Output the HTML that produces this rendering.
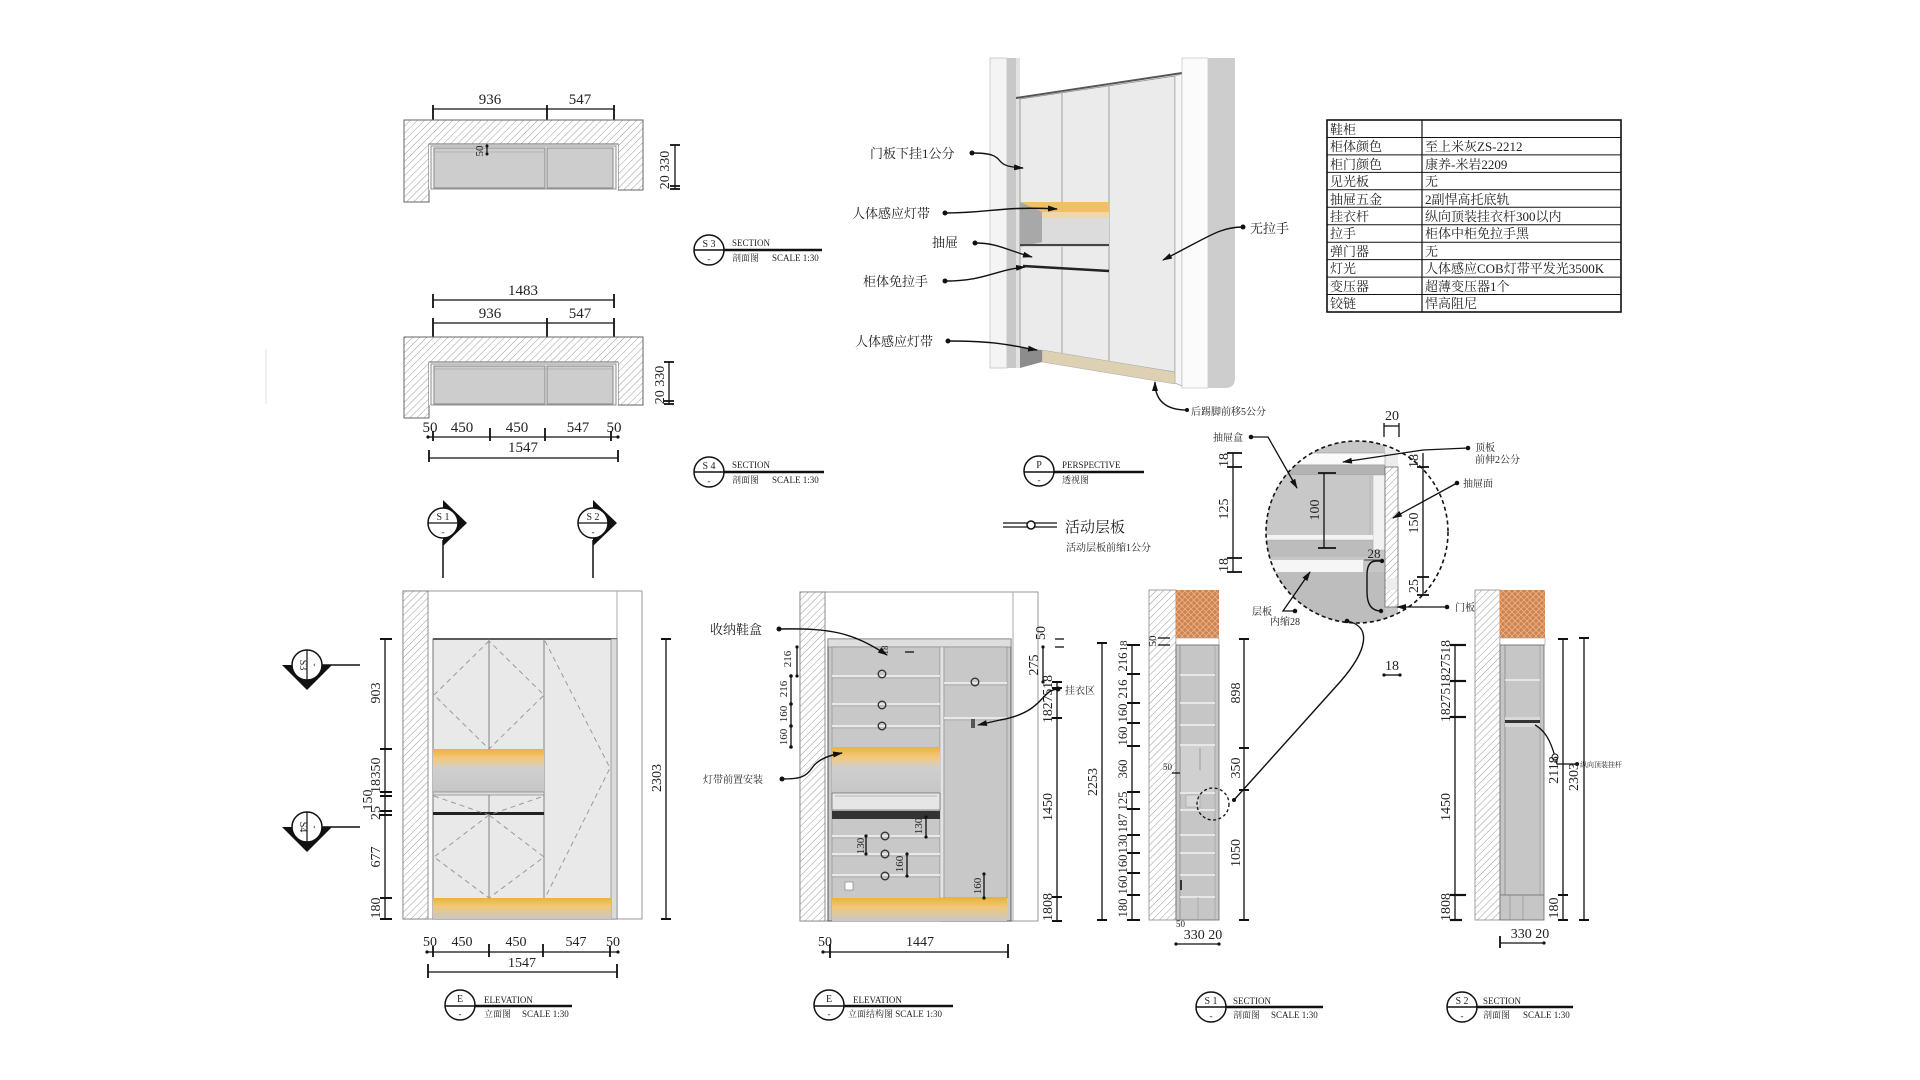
<!DOCTYPE html>
<html><head><meta charset="utf-8"><style>
html,body{margin:0;padding:0;background:#fff;}
svg{display:block;}
text{font-family:"Liberation Serif","Noto Serif CJK SC",serif;fill:#222;}
.t{font-family:"Liberation Serif","Noto Serif CJK SC",serif;}
</style></head><body>
<svg width="1920" height="1080" viewBox="0 0 1920 1080" xmlns="http://www.w3.org/2000/svg">
<defs>
<pattern id="h" width="5" height="5" patternUnits="userSpaceOnUse" patternTransform="rotate(45)">
<rect width="5" height="5" fill="#fff"/><line x1="0" y1="0" x2="0" y2="5" stroke="#9a9a9a" stroke-width="1"/></pattern>
<pattern id="b" width="6" height="6" patternUnits="userSpaceOnUse">
<rect width="6" height="6" fill="#d0824f"/><path d="M0,0 L6,6 M6,0 L0,6" stroke="#eab48a" stroke-width="0.8"/></pattern>
<linearGradient id="og" x1="0" y1="0" x2="0" y2="1">
<stop offset="0" stop-color="#efb040"/><stop offset="0.22" stop-color="#f3c97a"/><stop offset="0.45" stop-color="#cfcfcf"/><stop offset="1" stop-color="#c6c6c6"/></linearGradient>
<linearGradient id="og2" x1="0" y1="0" x2="0" y2="1">
<stop offset="0" stop-color="#efb040"/><stop offset="0.4" stop-color="#f1c878"/><stop offset="1" stop-color="#c8c8c8"/></linearGradient>
<marker id="ar" markerWidth="10" markerHeight="6" refX="9" refY="3" orient="auto" markerUnits="userSpaceOnUse"><path d="M0,0 L10,3 L0,6 z" fill="#111"/></marker>
<clipPath id="dc"><circle cx="1357" cy="532" r="91"/></clipPath>
</defs>
<rect width="1920" height="1080" fill="#fff"/>
<line x1="266" y1="349" x2="266" y2="404" stroke="#e2e2e2" stroke-width="1"/>

<!-- ============ PLAN 1 ============ -->
<g stroke="#111" stroke-width="1.3">
<line x1="433" y1="109" x2="614" y2="109"/>
<line x1="433" y1="105" x2="433" y2="120" stroke-width="1.8"/><line x1="547" y1="105" x2="547" y2="120" stroke-width="1.8"/><line x1="614" y1="105" x2="614" y2="120" stroke-width="1.8"/>
</g>
<text x="490" y="104" font-size="15" text-anchor="middle">936</text>
<text x="580" y="104" font-size="15" text-anchor="middle">547</text>
<path d="M404,120 H643 V190 H618 V144 H429 V202 H404 Z" fill="url(#h)" stroke="#666" stroke-width="1"/>
<rect x="429" y="144" width="189" height="46" fill="#fff" stroke="none"/>
<line x1="429" y1="144" x2="618" y2="144" stroke="#666"/>
<rect x="431" y="146" width="185" height="43" fill="#f2f2f2" stroke="#777" stroke-width="0.8"/>
<rect x="434" y="148" width="111" height="40" fill="#cdcdcd" stroke="#777" stroke-width="0.8"/>
<rect x="547" y="148" width="66" height="40" fill="#cdcdcd" stroke="#777" stroke-width="0.8"/>
<line x1="434" y1="152" x2="545" y2="152" stroke="#999" stroke-width="0.6"/>
<line x1="487" y1="145" x2="487" y2="155" stroke="#111" stroke-width="1.2"/>
<circle cx="487" cy="146" r="1.5" fill="#111"/><circle cx="487" cy="154" r="1.5" fill="#111"/>
<text transform="translate(483,151) rotate(-90)" font-size="11" text-anchor="middle">50</text>
<g stroke="#111" stroke-width="1.3"><line x1="675" y1="145" x2="675" y2="189"/>
<line x1="670" y1="145" x2="680" y2="145" stroke-width="1.8"/><line x1="670" y1="186" x2="680" y2="186" stroke-width="1.8"/><line x1="670" y1="189" x2="680" y2="189" stroke-width="1.8"/></g>
<text transform="translate(669,170) rotate(-90)" font-size="14" text-anchor="middle">20 330</text>

<!-- S3 label -->
<line x1="694" y1="250" x2="822" y2="250" stroke="#111" stroke-width="2.5"/>
<circle cx="709" cy="250" r="15" fill="#fff" stroke="#111" stroke-width="1.5"/>
<line x1="694" y1="250" x2="724" y2="250" stroke="#111" stroke-width="1.5"/>
<text x="709" y="247" font-size="10" text-anchor="middle">S 3</text>
<text x="709" y="262" font-size="9" text-anchor="middle" fill="#666">-</text>
<text x="732" y="246" font-size="9" fill="#444">SECTION</text>
<text x="732" y="261" font-size="9" fill="#444">剖面图</text><text x="772" y="261" font-size="9" fill="#444">SCALE 1:30</text>

<!-- ============ PLAN 2 ============ -->
<g stroke="#111" stroke-width="1.3">
<line x1="433" y1="300" x2="614" y2="300"/>
<line x1="433" y1="294" x2="433" y2="308" stroke-width="1.8"/><line x1="614" y1="294" x2="614" y2="308" stroke-width="1.8"/>
<line x1="433" y1="323" x2="614" y2="323"/>
<line x1="433" y1="318" x2="433" y2="337" stroke-width="1.8"/><line x1="547" y1="318" x2="547" y2="337" stroke-width="1.8"/><line x1="614" y1="318" x2="614" y2="337" stroke-width="1.8"/>
</g>
<text x="523" y="295" font-size="15" text-anchor="middle">1483</text>
<text x="490" y="318" font-size="15" text-anchor="middle">936</text>
<text x="580" y="318" font-size="15" text-anchor="middle">547</text>
<path d="M404,337 H643 V405 H618 V362 H429 V418 H404 Z" fill="url(#h)" stroke="#666" stroke-width="1"/>
<rect x="429" y="362" width="189" height="43" fill="#fff"/>
<line x1="429" y1="362" x2="618" y2="362" stroke="#666"/>
<rect x="431" y="364" width="185" height="41" fill="#f2f2f2" stroke="#777" stroke-width="0.8"/>
<rect x="434" y="366" width="111" height="38" fill="#cdcdcd" stroke="#777" stroke-width="0.8"/>
<rect x="547" y="366" width="66" height="38" fill="#cdcdcd" stroke="#777" stroke-width="0.8"/>
<line x1="434" y1="369" x2="613" y2="369" stroke="#999" stroke-width="0.6"/>
<g stroke="#111" stroke-width="1.3"><line x1="669" y1="362" x2="669" y2="404"/>
<line x1="664" y1="362" x2="674" y2="362" stroke-width="1.8"/><line x1="664" y1="401" x2="674" y2="401" stroke-width="1.8"/><line x1="664" y1="404" x2="674" y2="404" stroke-width="1.8"/></g>
<text transform="translate(664,385) rotate(-90)" font-size="14" text-anchor="middle">20 330</text>
<g font-size="15" text-anchor="middle">
<text x="430" y="432">50</text><text x="462" y="432">450</text><text x="517" y="432">450</text><text x="578" y="432">547</text><text x="614" y="432">50</text>
<text x="523" y="452">1547</text></g>
<g stroke="#111" stroke-width="1.3">
<line x1="428" y1="437" x2="618" y2="437"/>
<line x1="433" y1="431" x2="433" y2="441" stroke-width="1.8"/><line x1="490" y1="428" x2="490" y2="441" stroke-width="1.8"/><line x1="545" y1="428" x2="545" y2="441" stroke-width="1.8"/><line x1="611" y1="431" x2="611" y2="441" stroke-width="1.8"/>
<line x1="429" y1="458" x2="618" y2="458"/>
<line x1="429" y1="450" x2="429" y2="462" stroke-width="1.8"/><line x1="618" y1="450" x2="618" y2="462" stroke-width="1.8"/>
</g>
<circle cx="428" cy="437" r="1.6" fill="#111"/><circle cx="618" cy="437" r="1.6" fill="#111"/>

<!-- S4 label -->
<line x1="694" y1="472" x2="824" y2="472" stroke="#111" stroke-width="2.5"/>
<circle cx="709" cy="472" r="15" fill="#fff" stroke="#111" stroke-width="1.5"/>
<line x1="694" y1="472" x2="724" y2="472" stroke="#111" stroke-width="1.5"/>
<text x="709" y="469" font-size="10" text-anchor="middle">S 4</text>
<text x="709" y="484" font-size="9" text-anchor="middle" fill="#666">-</text>
<text x="732" y="468" font-size="9" fill="#444">SECTION</text>
<text x="732" y="483" font-size="9" fill="#444">剖面图</text><text x="772" y="483" font-size="9" fill="#444">SCALE 1:30</text>

<!-- ============ PERSPECTIVE ============ -->
<rect x="990" y="58" width="17" height="310" fill="#f4f4f4" stroke="#c4c4c4" stroke-width="0.8"/>
<rect x="1007" y="58" width="9" height="310" fill="#c8c8c8"/>
<rect x="1016" y="58" width="4" height="310" fill="#e2e2e2"/>
<polygon points="1016,97 1182,72 1182,74 1016,99" fill="#555"/>
<polygon points="1020,99 1175,76 1175,372 1020,348" fill="#ebebeb" stroke="#8a8a8a" stroke-width="0.8"/>
<line x1="1062" y1="91" x2="1062" y2="355" stroke="#9a9a9a" stroke-width="0.9"/>
<line x1="1109" y1="84" x2="1109" y2="362" stroke="#9a9a9a" stroke-width="0.9"/>
<polygon points="1175,76 1182,74 1182,386 1175,383" fill="#f6f6f6" stroke="#999" stroke-width="0.6"/>
<rect x="1182" y="58" width="26" height="330" fill="#fbfbfb" stroke="#bbb" stroke-width="0.6"/>
<path d="M1208,58 H1235 V378 Q1235,388 1225,388 H1208 Z" fill="#cdcdcd"/>
<!-- niche -->
<rect x="1020" y="202" width="89" height="45" fill="#d6d6d6"/>
<polygon points="1020,202 1042,208 1042,242 1020,247" fill="#a8a8a8"/>
<rect x="1042" y="208" width="67" height="35" fill="#dcdcdc"/>
<polygon points="1020,202 1109,202 1109,212 1042,212" fill="#f2be6a"/>
<polygon points="1042,212 1109,212 1109,218 1042,218" fill="#f0d6a4" opacity="0.8"/>
<line x1="1020" y1="245" x2="1109" y2="245" stroke="#444" stroke-width="2"/>
<line x1="1023" y1="266" x2="1109" y2="271" stroke="#222" stroke-width="2.6"/>
<polygon points="1042,350 1175,372 1175,384 1042,362" fill="#ddd0b3" stroke="#aaa" stroke-width="0.5"/>
<polygon points="1020,348 1042,350 1042,362 1020,368" fill="#8c8c8c"/>
<!-- labels -->
<g font-size="13" fill="#333">
<text x="870" y="158">门板下挂1公分</text>
<text x="852" y="218">人体感应灯带</text>
<text x="932" y="247">抽屉</text>
<text x="863" y="286">柜体免拉手</text>
<text x="855" y="346">人体感应灯带</text>
<text x="1250" y="233">无拉手</text>
</g>
<text x="1191" y="415" font-size="10" fill="#333">后踢脚前移5公分</text>
<g fill="none" stroke="#111" stroke-width="1.4" marker-end="url(#ar)">
<path d="M972,153 C992,153 996,156 1000,161 S1010,167 1023,168"/>
<path d="M945,213 C990,213 1000,206 1057,209"/>
<path d="M975,243 C998,243 1006,250 1032,257"/>
<path d="M945,281 C985,281 995,270 1025,267"/>
<path d="M948,341 C1000,341 1012,346 1037,350"/>
<path d="M1243,227 C1220,227 1210,236 1163,260"/>
<path d="M1187,410 C1165,410 1155,400 1155,382"/>
</g>
<g fill="#111"><circle cx="972" cy="153" r="2.5"/><circle cx="945" cy="213" r="2.5"/><circle cx="975" cy="243" r="2.5"/><circle cx="945" cy="281" r="2.5"/><circle cx="948" cy="341" r="2.5"/><circle cx="1243" cy="227" r="2.5"/><circle cx="1187" cy="410" r="2"/></g>
<!-- P label -->
<line x1="1024" y1="472" x2="1144" y2="472" stroke="#111" stroke-width="2.5"/>
<circle cx="1039" cy="471" r="15" fill="#fff" stroke="#111" stroke-width="1.5"/>
<line x1="1024" y1="472" x2="1054" y2="472" stroke="#111" stroke-width="1.5"/>
<text x="1039" y="468" font-size="10" text-anchor="middle">P</text>
<text x="1039" y="483" font-size="9" text-anchor="middle" fill="#666">-</text>
<text x="1062" y="468" font-size="9" fill="#444">PERSPECTIVE</text>
<text x="1062" y="483" font-size="9" fill="#444">透视图</text>

<!-- ============ TABLE ============ -->
<g stroke="#111" fill="none">
<rect x="1327" y="120" width="294" height="192" stroke-width="1.6"/>
<line x1="1422" y1="120" x2="1422" y2="312" stroke-width="1.2"/>
<g stroke-width="1">
<line x1="1327" y1="137.5" x2="1621" y2="137.5"/><line x1="1327" y1="154.9" x2="1621" y2="154.9"/><line x1="1327" y1="172.4" x2="1621" y2="172.4"/><line x1="1327" y1="189.8" x2="1621" y2="189.8"/><line x1="1327" y1="207.3" x2="1621" y2="207.3"/><line x1="1327" y1="224.7" x2="1621" y2="224.7"/><line x1="1327" y1="242.2" x2="1621" y2="242.2"/><line x1="1327" y1="259.6" x2="1621" y2="259.6"/><line x1="1327" y1="277.1" x2="1621" y2="277.1"/><line x1="1327" y1="294.5" x2="1621" y2="294.5"/>
</g></g>
<g font-size="13" fill="#222">
<text x="1330" y="134">鞋柜</text>
<text x="1330" y="151">柜体颜色</text><text x="1425" y="151">至上米灰ZS-2212</text>
<text x="1330" y="169">柜门颜色</text><text x="1425" y="169">康养-米岩2209</text>
<text x="1330" y="186">见光板</text><text x="1425" y="186">无</text>
<text x="1330" y="204">抽屉五金</text><text x="1425" y="204">2副悍高托底轨</text>
<text x="1330" y="221">挂衣杆</text><text x="1425" y="221">纵向顶装挂衣杆300以内</text>
<text x="1330" y="238">拉手</text><text x="1425" y="238">柜体中柜免拉手黑</text>
<text x="1330" y="256">弹门器</text><text x="1425" y="256">无</text>
<text x="1330" y="273">灯光</text><text x="1425" y="273">人体感应COB灯带平发光3500K</text>
<text x="1330" y="291">变压器</text><text x="1425" y="291">超薄变压器1个</text>
<text x="1330" y="308">铰链</text><text x="1425" y="308">悍高阻尼</text>
</g>

<!-- ============ LEGEND ============ -->
<line x1="1003" y1="523" x2="1057" y2="523" stroke="#111" stroke-width="1.3"/>
<line x1="1003" y1="527" x2="1057" y2="527" stroke="#111" stroke-width="1.3"/>
<circle cx="1031" cy="525" r="4" fill="#fff" stroke="#111" stroke-width="1.5"/>
<text x="1065" y="532" font-size="15" fill="#333">活动层板</text>
<text x="1066" y="551" font-size="10" fill="#444">活动层板前缩1公分</text>

<!-- ============ DETAIL CIRCLE ============ -->
<g clip-path="url(#dc)">
<rect x="1260" y="435" width="210" height="200" fill="#c6c6c6"/>
<rect x="1398" y="435" width="70" height="200" fill="#fff"/>
<rect x="1385" y="435" width="13" height="32" fill="#ececec"/>
<rect x="1260" y="453" width="125" height="12" fill="#fafafa" stroke="#999" stroke-width="0.6"/>
<rect x="1260" y="465" width="125" height="10" fill="#b3b3b3" stroke="#999" stroke-width="0.6"/>
<rect x="1260" y="475" width="113" height="60" fill="#c8c8c8"/>
<line x1="1370" y1="475" x2="1370" y2="535" stroke="#aaa" stroke-width="0.6"/>
<rect x="1373" y="475" width="12" height="75" fill="#f2f2f2" stroke="#aaa" stroke-width="0.5"/>
<rect x="1260" y="535" width="113" height="5" fill="#f4f4f4"/>
<rect x="1260" y="540" width="113" height="16" fill="#bcbcbc" stroke="#aaa" stroke-width="0.5"/>
<rect x="1260" y="560" width="103" height="12" fill="#f6f6f6"/>
<rect x="1260" y="572" width="125" height="60" fill="#bdbdbd"/>
<rect x="1385" y="467" width="13" height="140" fill="url(#h)" stroke="#666" stroke-width="0.8"/>
<rect x="1386" y="578" width="11" height="12" fill="#eee"/>
</g>
<path d="M1382,561 L1376,561 Q1367,561 1367,575 L1367,592 Q1367,611 1381,611" fill="none" stroke="#111" stroke-width="1.4"/>
<circle cx="1382" cy="561" r="2.2" fill="#111"/><circle cx="1381" cy="611" r="2.2" fill="#111"/>
<circle cx="1357" cy="532" r="91" fill="none" stroke="#111" stroke-width="1.6" stroke-dasharray="4,3"/>
<text x="1374" y="558" font-size="13" text-anchor="middle">28</text>
<line x1="1364" y1="560" x2="1384" y2="560" stroke="#111" stroke-width="0.8"/>
<!-- dims -->
<g stroke="#111" stroke-width="1.3">
<line x1="1233" y1="453" x2="1233" y2="572"/>
<line x1="1227" y1="453" x2="1242" y2="453" stroke-width="1.8"/><line x1="1227" y1="467" x2="1242" y2="467" stroke-width="1.8"/><line x1="1227" y1="558" x2="1242" y2="558" stroke-width="1.8"/><line x1="1227" y1="572" x2="1242" y2="572" stroke-width="1.8"/>
<line x1="1324" y1="473" x2="1324" y2="548"/>
<line x1="1318" y1="473" x2="1336" y2="473" stroke-width="1.8"/><line x1="1318" y1="548" x2="1336" y2="548" stroke-width="1.8"/>
<line x1="1423" y1="453" x2="1423" y2="595"/>
<line x1="1417" y1="467" x2="1429" y2="467" stroke-width="1.8"/><line x1="1417" y1="577" x2="1429" y2="577" stroke-width="1.8"/><line x1="1417" y1="595" x2="1429" y2="595" stroke-width="1.8"/>
<line x1="1384" y1="423" x2="1384" y2="437"/><line x1="1399" y1="423" x2="1399" y2="437"/><line x1="1384" y1="426" x2="1399" y2="426"/>
<line x1="1384" y1="675" x2="1400" y2="675"/>
</g>
<circle cx="1384" cy="675" r="1.6" fill="#111"/><circle cx="1400" cy="675" r="1.6" fill="#111"/>
<text x="1392" y="670" font-size="14" text-anchor="middle">18</text>
<text x="1392" y="420" font-size="14" text-anchor="middle">20</text>
<g font-size="14" text-anchor="middle">
<text transform="translate(1228,460) rotate(-90)">18</text>
<text transform="translate(1228,509) rotate(-90)">125</text>
<text transform="translate(1228,565) rotate(-90)">18</text>
<text transform="translate(1319,510) rotate(-90)">100</text>
<text transform="translate(1418,461) rotate(-90)">18</text>
<text transform="translate(1418,523) rotate(-90)">150</text>
<text transform="translate(1418,586) rotate(-90)">25</text>
</g>
<g font-size="10" fill="#333">
<text x="1213" y="441">抽屉盒</text>
<text x="1475" y="451">顶板</text><text x="1475" y="463">前伸2公分</text>
<text x="1463" y="487">抽屉面</text>
<text x="1455" y="611">门板</text>
<text x="1252" y="615">层板</text><text x="1270" y="625">内缩28</text>
</g>
<g fill="none" stroke="#111" stroke-width="1.3" marker-end="url(#ar)">
<path d="M1251,437 L1268,437 L1297,488"/>
<path d="M1468,448 L1423,450 L1343,462"/>
<path d="M1457,483 L1393,518"/>
<path d="M1447,607 L1397,607"/>
<path d="M1295,611 L1283,611 L1310,572"/>
</g>
<g fill="#111"><circle cx="1251" cy="437" r="2.3"/><circle cx="1468" cy="448" r="2.3"/><circle cx="1457" cy="483" r="2.3"/><circle cx="1447" cy="607" r="2.3"/><circle cx="1295" cy="611" r="2.3"/><circle cx="1347" cy="621" r="2.3"/></g>
<path d="M1347,621 C1372,626 1368,650 1340,682 L1234,800" fill="none" stroke="#111" stroke-width="1.4"/>

<!-- ============ ELEVATION 1 ============ -->
<!-- S1 / S2 markers -->
<line x1="443" y1="540" x2="443" y2="578" stroke="#111" stroke-width="1.5"/>
<polygon points="443,500 467,523 443,546" fill="#111"/>
<circle cx="443" cy="523" r="15" fill="#fff" stroke="#111" stroke-width="1.5"/>
<line x1="428" y1="523" x2="458" y2="523" stroke="#111" stroke-width="1.2"/>
<text x="443" y="520" font-size="10" text-anchor="middle">S 1</text><text x="443" y="535" font-size="9" text-anchor="middle" fill="#666">-</text>
<line x1="593" y1="540" x2="593" y2="578" stroke="#111" stroke-width="1.5"/>
<polygon points="593,500 617,523 593,546" fill="#111"/>
<circle cx="593" cy="523" r="15" fill="#fff" stroke="#111" stroke-width="1.5"/>
<line x1="578" y1="523" x2="608" y2="523" stroke="#111" stroke-width="1.2"/>
<text x="593" y="520" font-size="10" text-anchor="middle">S 2</text><text x="593" y="535" font-size="9" text-anchor="middle" fill="#666">-</text>
<!-- S3 / S4 markers -->
<line x1="318" y1="665" x2="360" y2="665" stroke="#111" stroke-width="1.5"/>
<polygon points="282,665 332,665 307,690" fill="#111"/>
<circle cx="307" cy="665" r="15" fill="#fff" stroke="#111" stroke-width="1.5"/>
<line x1="307" y1="650" x2="307" y2="680" stroke="#111" stroke-width="1.2"/>
<text transform="translate(300,665) rotate(90)" font-size="10" text-anchor="middle">S3</text>
<text transform="translate(312,665) rotate(90)" font-size="9" text-anchor="middle" fill="#666">-</text>
<line x1="318" y1="827" x2="360" y2="827" stroke="#111" stroke-width="1.5"/>
<polygon points="282,827 332,827 307,852" fill="#111"/>
<circle cx="307" cy="827" r="15" fill="#fff" stroke="#111" stroke-width="1.5"/>
<line x1="307" y1="812" x2="307" y2="842" stroke="#111" stroke-width="1.2"/>
<text transform="translate(300,827) rotate(90)" font-size="10" text-anchor="middle">S4</text>
<text transform="translate(312,827) rotate(90)" font-size="9" text-anchor="middle" fill="#666">-</text>
<!-- body -->
<rect x="403" y="591" width="239" height="328" fill="#fff" stroke="#999" stroke-width="1"/>
<rect x="403" y="591" width="25" height="328" fill="url(#h)" stroke="#777" stroke-width="0.8"/>
<line x1="617" y1="591" x2="617" y2="919" stroke="#aaa" stroke-width="1"/>
<rect x="433" y="639" width="184" height="280" fill="#e9e9e9" stroke="#666" stroke-width="0.9"/>
<line x1="433" y1="639" x2="617" y2="639" stroke="#444" stroke-width="1.8"/>
<rect x="611" y="639" width="6" height="280" fill="#dadada" stroke="#777" stroke-width="0.6"/>
<g stroke="#777" stroke-width="0.9">
<line x1="489" y1="639" x2="489" y2="749"/><line x1="544" y1="639" x2="544" y2="898"/>
<line x1="489" y1="795" x2="489" y2="898"/></g>
<rect x="433" y="749" width="111" height="43" fill="url(#og)"/>
<rect x="433" y="792" width="111" height="3" fill="#ddd" stroke="#777" stroke-width="0.6"/>
<rect x="433" y="812" width="111" height="3" fill="#222"/>
<rect x="433" y="898" width="178" height="21" fill="url(#og2)"/>
<g fill="none" stroke="#9a9a9a" stroke-width="1" stroke-dasharray="5,4">
<path d="M489,641 L434,695 L489,749 L544,695 Z"/>
<path d="M489,815 L434,857 L489,898 L544,857 Z"/>
<path d="M434,796 L489,815 L544,796"/>
<path d="M545,641 L610,768 L545,898"/>
</g>
<!-- left dims -->
<g stroke="#111" stroke-width="1.3">
<line x1="385" y1="639" x2="385" y2="919"/>
<g stroke-width="2"><line x1="380" y1="639" x2="392" y2="639"/><line x1="380" y1="749" x2="392" y2="749"/><line x1="380" y1="792" x2="392" y2="792"/><line x1="380" y1="796" x2="392" y2="796"/><line x1="380" y1="811" x2="392" y2="811"/><line x1="380" y1="815" x2="392" y2="815"/><line x1="380" y1="898" x2="392" y2="898"/><line x1="380" y1="919" x2="392" y2="919"/></g>
<line x1="666" y1="639" x2="666" y2="919"/>
<line x1="661" y1="639" x2="671" y2="639" stroke-width="2"/><line x1="661" y1="919" x2="671" y2="919" stroke-width="2"/>
</g>
<g font-size="14" text-anchor="middle">
<text transform="translate(380,693) rotate(-90)">903</text>
<text transform="translate(380,768) rotate(-90)">350</text>
<text transform="translate(380,786) rotate(-90)">18</text>
<text transform="translate(372,800) rotate(-90)">150</text>
<text transform="translate(380,813) rotate(-90)">25</text>
<text transform="translate(380,857) rotate(-90)">677</text>
<text transform="translate(380,908) rotate(-90)">180</text>
<text transform="translate(661,778) rotate(-90)">2303</text>
<text x="430" y="946">50</text><text x="462" y="946">450</text><text x="516" y="946">450</text><text x="576" y="946">547</text><text x="613" y="946">50</text>
<text x="522" y="967">1547</text>
</g>
<g stroke="#111" stroke-width="1.3">
<line x1="427" y1="952" x2="618" y2="952"/>
<g stroke-width="1.8"><line x1="433" y1="946" x2="433" y2="957"/><line x1="489" y1="944" x2="489" y2="957"/><line x1="543" y1="944" x2="543" y2="957"/><line x1="610" y1="946" x2="610" y2="957"/>
<line x1="428" y1="964" x2="428" y2="978"/><line x1="617" y1="964" x2="617" y2="978"/></g>
<line x1="428" y1="972" x2="617" y2="972"/>
</g>
<circle cx="427" cy="952" r="1.6" fill="#111"/><circle cx="618" cy="952" r="1.6" fill="#111"/>
<!-- E label -->
<line x1="445" y1="1006" x2="572" y2="1006" stroke="#111" stroke-width="2.5"/>
<circle cx="460" cy="1005" r="15" fill="#fff" stroke="#111" stroke-width="1.5"/>
<line x1="445" y1="1006" x2="475" y2="1006" stroke="#111" stroke-width="1.5"/>
<text x="460" y="1002" font-size="10" text-anchor="middle">E</text><text x="460" y="1017" font-size="9" text-anchor="middle" fill="#666">-</text>
<text x="484" y="1003" font-size="9" fill="#444">ELEVATION</text>
<text x="484" y="1017" font-size="9" fill="#444">立面图</text><text x="522" y="1017" font-size="9" fill="#444">SCALE 1:30</text>

<!-- ============ ELEVATION 2 ============ -->
<rect x="800" y="592" width="238" height="329" fill="#fff" stroke="#999" stroke-width="1"/>
<rect x="800" y="592" width="25" height="329" fill="url(#h)" stroke="#777" stroke-width="0.8"/>
<line x1="1013" y1="592" x2="1013" y2="921" stroke="#aaa" stroke-width="1"/>
<rect x="828" y="639" width="183" height="282" fill="#c9c9c9" stroke="#555" stroke-width="1"/>
<rect x="828" y="639" width="183" height="8" fill="#dedede" stroke="#777" stroke-width="0.6"/>
<rect x="832" y="647" width="108" height="274" fill="#c8c8c8" stroke="#888" stroke-width="0.6"/>
<rect x="940" y="647" width="4" height="251" fill="#e4e4e4" stroke="#888" stroke-width="0.5"/>
<rect x="944" y="647" width="63" height="251" fill="#c8c8c8" stroke="#888" stroke-width="0.6"/>
<g stroke="#e8e8e8" stroke-width="2"><line x1="832" y1="676" x2="940" y2="676"/><line x1="832" y1="704" x2="940" y2="704"/><line x1="832" y1="726" x2="940" y2="726"/>
<line x1="832" y1="836" x2="940" y2="836"/><line x1="832" y1="854" x2="940" y2="854"/><line x1="832" y1="875" x2="940" y2="875"/>
<line x1="944" y1="683" x2="1007" y2="683"/><line x1="944" y1="718" x2="1007" y2="718"/></g>
<g stroke="#999" stroke-width="0.6"><line x1="832" y1="678" x2="940" y2="678"/><line x1="832" y1="706" x2="940" y2="706"/><line x1="832" y1="728" x2="940" y2="728"/><line x1="832" y1="838" x2="940" y2="838"/><line x1="832" y1="856" x2="940" y2="856"/><line x1="832" y1="877" x2="940" y2="877"/><line x1="944" y1="685" x2="1007" y2="685"/><line x1="944" y1="720" x2="1007" y2="720"/></g>
<rect x="832" y="747" width="108" height="46" fill="url(#og)"/>
<rect x="832" y="793" width="108" height="17" fill="#e6e6e6" stroke="#666" stroke-width="0.7"/>
<line x1="835" y1="796" x2="937" y2="796" stroke="#888" stroke-width="0.6"/>
<rect x="832" y="811" width="108" height="8" fill="#333"/>
<rect x="832" y="898" width="175" height="23" fill="url(#og2)"/>
<g fill="none" stroke="#333" stroke-width="1.4">
<circle cx="882" cy="674" r="3.8"/><circle cx="882" cy="705" r="3.8"/><circle cx="882" cy="726" r="3.8"/>
<circle cx="885" cy="836" r="3.8"/><circle cx="885" cy="854" r="3.8"/><circle cx="885" cy="876" r="3.8"/>
<circle cx="975" cy="682" r="3.8"/></g>
<rect x="971" y="719" width="4" height="9" fill="#555"/>
<rect x="845" y="882" width="8" height="8" fill="#fff" stroke="#777" stroke-width="0.6"/>
<!-- inner dims -->
<g stroke="#111" stroke-width="1.3">
<line x1="866" y1="836" x2="866" y2="854"/><line x1="907" y1="854" x2="907" y2="876"/><line x1="926" y1="817" x2="926" y2="837"/><line x1="984" y1="874" x2="984" y2="898"/>
<line x1="797" y1="647" x2="797" y2="676"/><line x1="791" y1="676" x2="791" y2="747"/>
<line x1="905" y1="652" x2="914" y2="652"/>
</g>
<g fill="#111"><circle cx="866" cy="836" r="1.6"/><circle cx="866" cy="854" r="1.6"/><circle cx="907" cy="854" r="1.6"/><circle cx="907" cy="876" r="1.6"/><circle cx="926" cy="817" r="1.6"/><circle cx="926" cy="837" r="1.6"/><circle cx="984" cy="874" r="1.6"/><circle cx="984" cy="898" r="1.6"/><circle cx="797" cy="647" r="1.6"/><circle cx="797" cy="676" r="1.6"/><circle cx="791" cy="676" r="1.8"/><circle cx="791" cy="704" r="1.8"/><circle cx="791" cy="726" r="1.8"/><circle cx="791" cy="747" r="1.8"/></g>
<g font-size="11" text-anchor="middle">
<text transform="translate(864,846) rotate(-90)">130</text>
<text transform="translate(903,864) rotate(-90)">160</text>
<text transform="translate(922,826) rotate(-90)">130</text>
<text transform="translate(981,886) rotate(-90)">160</text>
<text transform="translate(791,659) rotate(-90)">216</text>
<text transform="translate(787,689) rotate(-90)">216</text>
<text transform="translate(787,714) rotate(-90)">160</text>
<text transform="translate(787,737) rotate(-90)">160</text>
<text transform="translate(888,650) rotate(-90)" font-size="9">18</text>
</g>
<!-- right dims -->
<g stroke="#111" stroke-width="1.3">
<line x1="1057" y1="682" x2="1057" y2="921"/>
<g stroke-width="2"><line x1="1052" y1="682" x2="1062" y2="682"/><line x1="1052" y1="688" x2="1062" y2="688"/><line x1="1052" y1="718" x2="1062" y2="718"/><line x1="1052" y1="897" x2="1062" y2="897"/><line x1="1052" y1="921" x2="1062" y2="921"/></g>
<line x1="1043" y1="647" x2="1043" y2="682"/>
<line x1="1055" y1="639" x2="1064" y2="639"/><line x1="1055" y1="647" x2="1064" y2="647"/>
</g>
<circle cx="1043" cy="647" r="1.6" fill="#111"/><circle cx="1043" cy="682" r="1.6" fill="#111"/>
<g font-size="14" text-anchor="middle">
<text transform="translate(1052,699) rotate(-90)" textLength="48" lengthAdjust="spacingAndGlyphs">1827518</text>
<text transform="translate(1052,807) rotate(-90)">1450</text>
<text transform="translate(1052,907) rotate(-90)">1808</text>
<text transform="translate(1038,665) rotate(-90)">275</text>
<text transform="translate(1045,633) rotate(-90)">50</text>
<text x="825" y="946">50</text><text x="920" y="946">1447</text>
</g>
<g stroke="#111" stroke-width="1.3">
<line x1="823" y1="952" x2="1009" y2="952"/>
<line x1="830" y1="944" x2="830" y2="958" stroke-width="1.8"/><line x1="1008" y1="944" x2="1008" y2="958" stroke-width="1.8"/>
</g>
<circle cx="823" cy="952" r="1.6" fill="#111"/>
<!-- labels -->
<text x="710" y="634" font-size="13" fill="#333">收纳鞋盒</text>
<text x="703" y="783" font-size="10" fill="#333">灯带前置安装</text>
<text x="1065" y="694" font-size="10" fill="#333">挂衣区</text>
<g fill="none" stroke="#111" stroke-width="1.4" marker-end="url(#ar)">
<path d="M779,629 C830,628 852,632 887,655"/>
<path d="M782,779 C800,779 806,777 812,768 S830,755 842,753"/>
<path d="M1058,689 C1040,690 1045,712 1000,720 L978,725"/>
</g>
<g fill="#111"><circle cx="779" cy="629" r="2.5"/><circle cx="782" cy="779" r="2.5"/><circle cx="1058" cy="689" r="2.5"/></g>
<!-- E label 2 -->
<line x1="814" y1="1006" x2="953" y2="1006" stroke="#111" stroke-width="2.5"/>
<circle cx="829" cy="1005" r="15" fill="#fff" stroke="#111" stroke-width="1.5"/>
<line x1="814" y1="1006" x2="844" y2="1006" stroke="#111" stroke-width="1.5"/>
<text x="829" y="1002" font-size="10" text-anchor="middle">E</text><text x="829" y="1017" font-size="9" text-anchor="middle" fill="#666">-</text>
<text x="853" y="1003" font-size="9" fill="#444">ELEVATION</text>
<text x="848" y="1017" font-size="9" fill="#444">立面结构图 SCALE 1:30</text>

<!-- ============ SECTION S1 ============ -->
<rect x="1149" y="590" width="27" height="330" fill="url(#h)" stroke="#888" stroke-width="0.8"/>
<rect x="1176" y="590" width="43" height="48" fill="url(#b)"/>
<rect x="1176" y="638" width="43" height="7" fill="#fff" stroke="#999" stroke-width="0.6"/>
<rect x="1176" y="645" width="43" height="275" fill="#c6c6c6" stroke="#666" stroke-width="0.8"/>
<line x1="1180" y1="645" x2="1180" y2="920" stroke="#888" stroke-width="0.8"/>
<line x1="1215" y1="645" x2="1215" y2="920" stroke="#999" stroke-width="0.6"/>
<g stroke="#f2f2f2" stroke-width="1.5"><line x1="1180" y1="675" x2="1215" y2="675"/><line x1="1180" y1="703" x2="1215" y2="703"/><line x1="1180" y1="725" x2="1215" y2="725"/><line x1="1180" y1="745" x2="1215" y2="745"/><line x1="1180" y1="793" x2="1215" y2="793"/><line x1="1180" y1="810" x2="1215" y2="810"/><line x1="1180" y1="835" x2="1215" y2="835"/><line x1="1180" y1="853" x2="1215" y2="853"/><line x1="1180" y1="875" x2="1215" y2="875"/><line x1="1180" y1="897" x2="1215" y2="897"/></g>
<rect x="1181" y="746" width="33" height="46" fill="#d0d0d0"/>
<line x1="1200" y1="748" x2="1200" y2="770" stroke="#888" stroke-width="0.7"/>
<rect x="1186" y="795" width="14" height="12" fill="#d8d8d8" stroke="#999" stroke-width="0.5"/>
<rect x="1180" y="880" width="2" height="10" fill="#333"/>
<line x1="1198" y1="897" x2="1198" y2="920" stroke="#999" stroke-width="0.6"/>
<circle cx="1213" cy="804" r="16" fill="none" stroke="#111" stroke-width="1.3" stroke-dasharray="3,2.5"/>
<circle cx="1234" cy="800" r="2" fill="#111"/>
<g stroke="#111" stroke-width="1.3">
<line x1="1102" y1="643" x2="1102" y2="920"/>
<line x1="1097" y1="643" x2="1107" y2="643" stroke-width="2"/><line x1="1097" y1="920" x2="1107" y2="920" stroke-width="2"/>
<line x1="1132" y1="645" x2="1132" y2="920"/>
<g stroke-width="2"><line x1="1127" y1="645" x2="1140" y2="645"/><line x1="1127" y1="674" x2="1140" y2="674"/><line x1="1127" y1="703" x2="1140" y2="703"/><line x1="1127" y1="723" x2="1140" y2="723"/><line x1="1127" y1="746" x2="1140" y2="746"/><line x1="1127" y1="792" x2="1140" y2="792"/><line x1="1127" y1="809" x2="1140" y2="809"/><line x1="1127" y1="835" x2="1140" y2="835"/><line x1="1127" y1="853" x2="1140" y2="853"/><line x1="1127" y1="873" x2="1140" y2="873"/><line x1="1127" y1="895" x2="1140" y2="895"/><line x1="1127" y1="920" x2="1140" y2="920"/></g>
<line x1="1244" y1="639" x2="1244" y2="920"/>
<g stroke-width="2"><line x1="1239" y1="639" x2="1249" y2="639"/><line x1="1239" y1="748" x2="1249" y2="748"/><line x1="1239" y1="790" x2="1249" y2="790"/><line x1="1239" y1="920" x2="1249" y2="920"/></g>
<line x1="1176" y1="944" x2="1219" y2="944"/>
<line x1="1158" y1="638" x2="1170" y2="638"/><line x1="1158" y1="645" x2="1170" y2="645"/>
<line x1="1172" y1="773" x2="1180" y2="773"/>
</g>
<circle cx="1176" cy="944" r="1.6" fill="#111"/><circle cx="1219" cy="944" r="1.6" fill="#111"/>
<g font-size="13" text-anchor="middle">
<text transform="translate(1097,782) rotate(-90)" font-size="14">2253</text>
<text transform="translate(1127,908) rotate(-90)" textLength="19" lengthAdjust="spacingAndGlyphs">180</text>
<text transform="translate(1127,885) rotate(-90)" textLength="19" lengthAdjust="spacingAndGlyphs">160</text>
<text transform="translate(1127,864) rotate(-90)" textLength="19" lengthAdjust="spacingAndGlyphs">160</text>
<text transform="translate(1127,844) rotate(-90)" textLength="19" lengthAdjust="spacingAndGlyphs">130</text>
<text transform="translate(1127,823) rotate(-90)" textLength="19" lengthAdjust="spacingAndGlyphs">187</text>
<text transform="translate(1127,801) rotate(-90)" textLength="19" lengthAdjust="spacingAndGlyphs">125</text>
<text transform="translate(1127,769) rotate(-90)" textLength="19" lengthAdjust="spacingAndGlyphs">360</text>
<text transform="translate(1127,736) rotate(-90)" textLength="19" lengthAdjust="spacingAndGlyphs">160</text>
<text transform="translate(1127,713) rotate(-90)" textLength="19" lengthAdjust="spacingAndGlyphs">160</text>
<text transform="translate(1127,689) rotate(-90)" textLength="19" lengthAdjust="spacingAndGlyphs">216</text>
<text transform="translate(1127,662) rotate(-90)" textLength="19" lengthAdjust="spacingAndGlyphs">216</text>
<text transform="translate(1127,646) rotate(-90)" font-size="11">18</text>
<text transform="translate(1240,693) rotate(-90)" font-size="14">898</text>
<text transform="translate(1240,768) rotate(-90)" font-size="14">350</text>
<text transform="translate(1240,853) rotate(-90)" font-size="14">1050</text>
<text transform="translate(1156,641) rotate(-90)" font-size="11">50</text>
<text x="1203" y="939" font-size="14">330 20</text>
</g>
<text x="1163" y="770" font-size="9">50</text>
<text x="1176" y="927" font-size="9">50</text>
<!-- S1 label -->
<line x1="1196" y1="1007" x2="1323" y2="1007" stroke="#111" stroke-width="2.5"/>
<circle cx="1211" cy="1007" r="15" fill="#fff" stroke="#111" stroke-width="1.5"/>
<line x1="1196" y1="1007" x2="1226" y2="1007" stroke="#111" stroke-width="1.5"/>
<text x="1211" y="1004" font-size="10" text-anchor="middle">S 1</text><text x="1211" y="1019" font-size="9" text-anchor="middle" fill="#666">-</text>
<text x="1233" y="1004" font-size="9" fill="#444">SECTION</text>
<text x="1233" y="1018" font-size="9" fill="#444">剖面图</text><text x="1271" y="1018" font-size="9" fill="#444">SCALE 1:30</text>

<!-- ============ SECTION S2 ============ -->
<rect x="1475" y="590" width="25" height="330" fill="url(#h)" stroke="#888" stroke-width="0.8"/>
<rect x="1500" y="590" width="45" height="48" fill="url(#b)"/>
<rect x="1500" y="638" width="45" height="7" fill="#fff" stroke="#999" stroke-width="0.6"/>
<rect x="1500" y="645" width="44" height="275" fill="#c6c6c6" stroke="#666" stroke-width="0.8"/>
<line x1="1505" y1="645" x2="1505" y2="895" stroke="#888" stroke-width="0.8"/>
<line x1="1540" y1="645" x2="1540" y2="895" stroke="#999" stroke-width="0.6"/>
<line x1="1505" y1="680" x2="1540" y2="680" stroke="#eee" stroke-width="1.5"/>
<rect x="1505" y="717" width="35" height="10" fill="#d8d8d8"/>
<rect x="1505" y="720" width="35" height="3" fill="#333"/>
<line x1="1500" y1="895" x2="1544" y2="895" stroke="#666" stroke-width="0.8"/>
<line x1="1510" y1="895" x2="1510" y2="920" stroke="#888" stroke-width="0.6"/><line x1="1523" y1="895" x2="1523" y2="920" stroke="#888" stroke-width="0.6"/>
<path d="M1535,725 C1548,732 1553,748 1557,764 L1577,764" fill="none" stroke="#111" stroke-width="1.3"/>
<circle cx="1555" cy="757" r="3" fill="#fff" stroke="#111"/>
<circle cx="1577" cy="764" r="2" fill="#111"/>
<text x="1580" y="767" font-size="7" fill="#333">纵向顶装挂杆</text>
<g stroke="#111" stroke-width="1.3">
<line x1="1455" y1="645" x2="1455" y2="920"/>
<g stroke-width="2.2"><line x1="1450" y1="645" x2="1466" y2="645"/><line x1="1450" y1="681" x2="1466" y2="681"/><line x1="1450" y1="717" x2="1466" y2="717"/><line x1="1450" y1="895" x2="1466" y2="895"/><line x1="1450" y1="920" x2="1462" y2="920"/></g>
<line x1="1563" y1="639" x2="1563" y2="920"/>
<g stroke-width="2"><line x1="1558" y1="639" x2="1568" y2="639"/><line x1="1558" y1="895" x2="1568" y2="895"/><line x1="1558" y1="920" x2="1568" y2="920"/></g>
<line x1="1584" y1="638" x2="1584" y2="920"/>
<line x1="1579" y1="638" x2="1589" y2="638" stroke-width="2"/><line x1="1579" y1="920" x2="1589" y2="920" stroke-width="2"/>
<line x1="1500" y1="943" x2="1544" y2="943"/>
<line x1="1500" y1="936" x2="1500" y2="948" stroke-width="1.8"/>
</g>
<circle cx="1544" cy="943" r="1.6" fill="#111"/>
<g font-size="14" text-anchor="middle">
<text transform="translate(1450,681) rotate(-90)" textLength="82" lengthAdjust="spacingAndGlyphs">182751827518</text>
<text transform="translate(1450,807) rotate(-90)">1450</text>
<text transform="translate(1450,907) rotate(-90)">1808</text>
<text transform="translate(1558,770) rotate(-90)">2118</text>
<text transform="translate(1558,908) rotate(-90)">180</text>
<text transform="translate(1578,777) rotate(-90)">2303</text>
<text x="1530" y="938">330 20</text>
</g>
<!-- S2 label -->
<line x1="1447" y1="1007" x2="1573" y2="1007" stroke="#111" stroke-width="2.5"/>
<circle cx="1462" cy="1007" r="15" fill="#fff" stroke="#111" stroke-width="1.5"/>
<line x1="1447" y1="1007" x2="1477" y2="1007" stroke="#111" stroke-width="1.5"/>
<text x="1462" y="1004" font-size="10" text-anchor="middle">S 2</text><text x="1462" y="1019" font-size="9" text-anchor="middle" fill="#666">-</text>
<text x="1483" y="1004" font-size="9" fill="#444">SECTION</text>
<text x="1483" y="1018" font-size="9" fill="#444">剖面图</text><text x="1523" y="1018" font-size="9" fill="#444">SCALE 1:30</text>
</svg>
</body></html>
